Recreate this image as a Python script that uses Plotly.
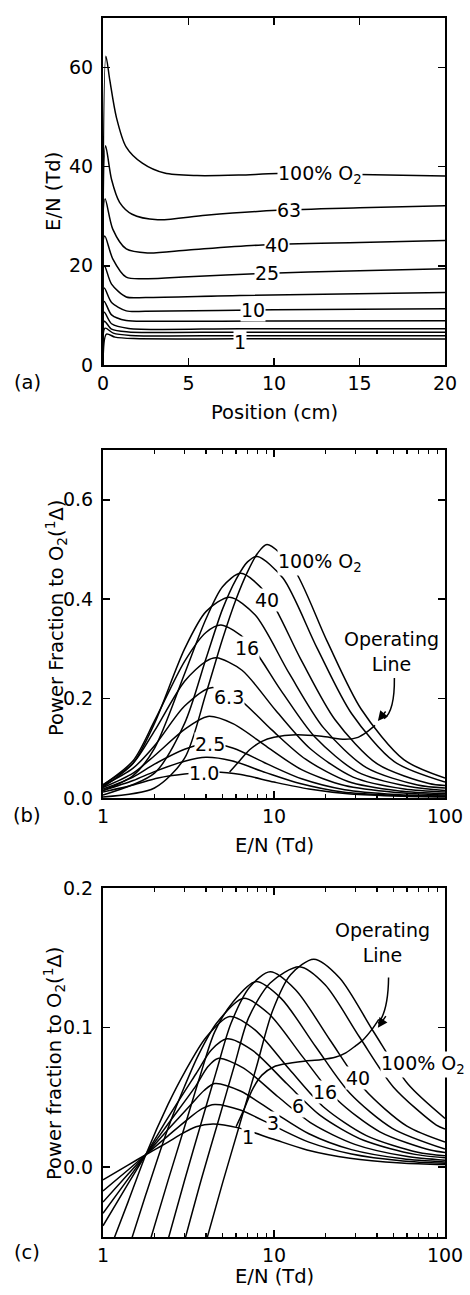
import numpy as np
import plotly.graph_objects as go

FONT = "DejaVu Sans, Liberation Sans, Arial, sans-serif"
TICK_SIZE = 19
TITLE_SIZE = 19.5

# O2 percentages of the curve families (lowest to highest)
o2_percent = [1.0, 1.6, 2.5, 4, 6.3, 10, 16, 25, 40, 63, 100]

# ---------------- Panel (a): E/N (Td) vs position (cm) ----------------
a_pos = [
    [0, 0.2, 0.7, 1.8, 8, 20],
    [0, 0.12, 0.6, 1.6, 8, 20],
    [0, 0.08, 0.5, 1.5, 8, 20],
    [0, 0.07, 0.5, 1.5, 8, 20],
    [0, 0.07, 0.5, 1.36, 3, 10, 20],
    [0, 0.07, 0.5, 1.36, 2.5, 10, 20],
    [0, 0.08, 0.5, 1.36, 2.5, 8, 20],
    [0, 0.1, 0.57, 1.36, 2.6, 5, 8.9, 15, 20],
    [0, 0.12, 0.57, 1.36, 2.6, 5, 9.3, 15, 20],
    [0, 0.15, 0.5, 0.97, 1.7, 3.2, 6, 10.2, 15, 20],
    [0, 0.17, 0.4, 0.78, 1.35, 2.3, 3.6, 5.5, 8, 10.2, 15, 20],
]
a_en = [
    [0, 6.2, 5.6, 5.3, 5.25, 5.2],
    [0, 7.4, 6.4, 5.95, 5.9, 5.9],
    [0, 8.8, 7.2, 6.65, 6.6, 6.6],
    [0, 10.6, 8.3, 7.35, 7.3, 7.3],
    [0, 12.8, 10.1, 8.95, 8.8, 8.85, 8.9],
    [0, 15.5, 12.6, 10.9, 10.8, 11.1, 11.35],
    [0, 20.0, 16.3, 13.7, 13.6, 14.0, 14.6],
    [0, 26.0, 21.4, 17.7, 17.4, 17.8, 18.4, 19.0, 19.4],
    [0, 33.5, 27.4, 23.4, 22.6, 23.2, 24.2, 24.7, 25.1],
    [0, 44.2, 37.4, 32.8, 30.4, 29.3, 30.2, 31.2, 31.7, 32.1],
    [0, 62.3, 57.4, 50.0, 44.0, 40.7, 38.7, 38.2, 38.3, 38.6, 38.4, 38.1],
]

# ---------------- Panel (b): power fraction vs E/N ----------------
b_en = [
    [1, 1.5, 2.1, 3, 4.5, 6.4, 10, 16, 28, 56, 100],
    [1, 1.5, 2, 3, 4, 5.65, 8.96, 14.2, 25.2, 50.4, 100],
    [1, 1.5, 2, 3, 4.1, 5.79, 9.18, 14.5, 25.9, 51.6, 100],
    [1, 1.5, 2, 3, 4.1, 5.79, 9.18, 14.5, 25.9, 51.6, 100],
    [1, 1.5, 2, 3, 4.3, 6.08, 9.63, 15.3, 27.1, 54.1, 100],
    [1, 1.5, 2, 3, 4, 4.6, 6.5, 10.3, 16.3, 29.0, 57.9, 100],
    [1, 1.5, 2, 3, 4, 4.9, 6.92, 11.0, 17.4, 30.9, 61.7, 100],
    [1, 1.5, 2, 3, 4, 5.5, 7.77, 12.3, 19.5, 34.7, 69.2, 100],
    [1, 1.5, 2, 3, 4, 5, 6.4, 9.04, 14.3, 22.7, 40.4, 80.6, 100],
    [1, 2, 3, 4, 5, 6, 7, 8, 11.3, 17.9, 28.4, 50.5, 100],
    [1, 2, 3, 4, 5, 6, 7, 8, 9.1, 12.9, 20.4, 32.3, 57.4, 100],
]
b_frac = [
    [0.012, 0.026, 0.040, 0.048, 0.052, 0.047, 0.032, 0.018, 0.008, 0.0035, 0.002],
    [0.015, 0.035, 0.053, 0.074, 0.082, 0.075, 0.051, 0.029, 0.012, 0.0053, 0.003],
    [0.018, 0.042, 0.068, 0.098, 0.110, 0.100, 0.068, 0.0385, 0.0165, 0.007, 0.004],
    [0.021, 0.050, 0.085, 0.138, 0.164, 0.149, 0.102, 0.057, 0.025, 0.011, 0.006],
    [0.025, 0.060, 0.105, 0.185, 0.222, 0.202, 0.138, 0.078, 0.033, 0.014, 0.0085],
    [0.027, 0.070, 0.135, 0.235, 0.275, 0.282, 0.257, 0.175, 0.099, 0.042, 0.018, 0.012],
    [0.026, 0.075, 0.155, 0.275, 0.333, 0.348, 0.317, 0.216, 0.122, 0.052, 0.023, 0.015],
    [0.022, 0.070, 0.150, 0.300, 0.375, 0.404, 0.368, 0.250, 0.141, 0.061, 0.026, 0.020],
    [0.015, 0.045, 0.100, 0.250, 0.360, 0.425, 0.452, 0.411, 0.280, 0.158, 0.068, 0.029, 0.025],
    [0.006, 0.050, 0.150, 0.280, 0.380, 0.440, 0.475, 0.486, 0.442, 0.301, 0.170, 0.073, 0.032],
    [0.002, 0.020, 0.080, 0.210, 0.320, 0.400, 0.455, 0.492, 0.510, 0.464, 0.316, 0.179, 0.077, 0.040],
]
b_op_en = [5.5, 6.3, 7.2, 8.5, 10, 13.5, 19, 26, 31, 35, 39]
b_op_frac = [0.052, 0.075, 0.097, 0.114, 0.122, 0.127, 0.124, 0.118, 0.122, 0.133, 0.146]

# ---------------- Panel (c): power fraction vs E/N ----------------
c_en = [
    [1, 1.4, 1.78, 2.4, 2.8, 3.5, 4.4, 6.2, 9.85, 15.6, 27.8, 55.4, 100],
    [1, 1.4, 1.78, 2.4, 3.1, 3.8, 4.5, 6.36, 10.1, 16.0, 28.4, 56.7, 100],
    [1, 1.4, 1.78, 2.4, 3.27, 3.9, 4.5, 6.36, 10.1, 16.0, 28.4, 56.7, 100],
    [1, 1.4, 1.78, 2.4, 3.5, 4.1, 4.7, 6.64, 10.5, 16.7, 29.7, 59.2, 100],
    [1, 1.4, 1.78, 2.4, 3.5, 4.3, 5.3, 7.49, 11.9, 18.8, 33.4, 66.7, 100],
    [1.12, 1.4, 1.78, 2.4, 3.0, 4.0, 5.5, 7.77, 12.3, 19.5, 34.7, 69.2, 100],
    [1.43, 1.78, 2.4, 3.0, 3.6, 4.6, 6.6, 9.33, 14.8, 23.4, 41.6, 83.1, 100],
    [1.85, 2.4, 3.0, 3.7, 4.5, 5.8, 7.8, 11.0, 17.5, 27.7, 49.2, 100],
    [2.35, 3.0, 3.8, 4.6, 5.6, 7.2, 9.5, 13.4, 21.3, 33.7, 59.9, 100],
    [2.95, 3.8, 4.8, 5.9, 7.1, 9.5, 14.1, 19.9, 31.6, 50.0, 89.0, 100],
    [3.95, 5.0, 6.3, 7.9, 9.8, 12.5, 17.1, 24.2, 38.3, 60.7, 100],
]
c_frac = [
    [-0.009, 0.0015, 0.009, 0.018, 0.023, 0.029, 0.031, 0.0282, 0.0202, 0.0124, 0.0065, 0.0031, 0.0019],
    [-0.017, -0.002, 0.009, 0.0225, 0.034, 0.042, 0.045, 0.041, 0.0293, 0.018, 0.0095, 0.0045, 0.0028],
    [-0.025, -0.005, 0.009, 0.027, 0.045, 0.055, 0.060, 0.0546, 0.039, 0.024, 0.0126, 0.006, 0.0037],
    [-0.033, -0.0085, 0.009, 0.031, 0.0585, 0.072, 0.078, 0.071, 0.0507, 0.0312, 0.0164, 0.0078, 0.005],
    [-0.042, -0.012, 0.009, 0.0355, 0.067, 0.084, 0.092, 0.0837, 0.0598, 0.0368, 0.0193, 0.0092, 0.0068],
    [-0.056, -0.025, 0.009, 0.045, 0.068, 0.093, 0.108, 0.0983, 0.0702, 0.0432, 0.0227, 0.0108, 0.0082],
    [-0.056, -0.0196, 0.028, 0.058, 0.080, 0.103, 0.121, 0.110, 0.0787, 0.0484, 0.0254, 0.0121, 0.0106],
    [-0.056, -0.0096, 0.029, 0.0656, 0.097, 0.119, 0.133, 0.121, 0.0865, 0.0532, 0.0279, 0.013],
    [-0.056, -0.0093, 0.034, 0.0687, 0.103, 0.129, 0.140, 0.127, 0.091, 0.056, 0.0294, 0.018],
    [-0.056, -0.0067, 0.036, 0.074, 0.107, 0.132, 0.1436, 0.1307, 0.0933, 0.0574, 0.0302, 0.0274],
    [-0.056, -0.0114, 0.0306, 0.072, 0.112, 0.138, 0.149, 0.1356, 0.0969, 0.0596, 0.035],
]
c_op_en = [6.0, 6.6, 7.5, 8.5, 10, 11.5, 15, 18.7, 23, 26.3, 30, 33, 37.5, 41]
c_op_frac = [0.029, 0.040, 0.056, 0.066, 0.072, 0.074, 0.076, 0.077, 0.079, 0.082, 0.087, 0.091, 0.099, 0.106]

# Curve labels
a_labels = ["1", "10", "25", "40", "63", "100% O<sub>2</sub>"]
a_label_x = [8.0, 8.8, 9.6, 10.2, 10.85, 10.2]
a_label_y = [4.6, 11.1, 18.6, 24.2, 31.2, 38.5]
b_labels = ["1.0", "2.5", "6.3", "16", "40", "100% O<sub>2</sub>"]
b_label_en = [3.9, 4.22, 5.45, 6.93, 9.07, 10.4]
b_label_y = [0.050, 0.108, 0.204, 0.302, 0.398, 0.474]
c_labels = ["1", "3", "6", "16", "40", "100% O<sub>2</sub>"]
c_label_en = [7.0, 9.85, 13.9, 20.0, 30.8, 41.6]
c_label_y = [0.022, 0.0314, 0.0436, 0.054, 0.0636, 0.0736]

# ---------------- Figure ----------------
W, H = 470, 1295
ML, MR, MT, MB = 103, 15, 7, 58
PH = H - MT - MB

def ydom(top_px, bot_px):
    return [(H - MB - bot_px) / PH, (H - MB - top_px) / PH]

fig = go.Figure()
LINE = dict(color="black", width=1.5, shape="spline", smoothing=0.8)

for x, y in zip(a_pos, a_en):
    fig.add_trace(go.Scatter(x=x, y=y, mode="lines", line=LINE, xaxis="x", yaxis="y",
                             showlegend=False, hoverinfo="skip"))
for x, y in zip(b_en, b_frac):
    fig.add_trace(go.Scatter(x=x, y=y, mode="lines", line=LINE, xaxis="x2", yaxis="y2",
                             showlegend=False, hoverinfo="skip"))
fig.add_trace(go.Scatter(x=b_op_en, y=b_op_frac, mode="lines", line=LINE, xaxis="x2", yaxis="y2",
                         showlegend=False, hoverinfo="skip"))
for x, y in zip(c_en, c_frac):
    fig.add_trace(go.Scatter(x=x, y=y, mode="lines", line=LINE, xaxis="x3", yaxis="y3",
                             showlegend=False, hoverinfo="skip"))
fig.add_trace(go.Scatter(x=c_op_en, y=c_op_frac, mode="lines", line=LINE, xaxis="x3", yaxis="y3",
                         showlegend=False, hoverinfo="skip"))

axis_common = dict(showline=True, linecolor="black", linewidth=2, mirror="ticks",
                   ticks="inside", ticklen=7, tickwidth=1.5, tickcolor="black",
                   showgrid=False, zeroline=False,
                   tickfont=dict(family=FONT, size=TICK_SIZE, color="black"))
minor_log = dict(tickvals=[2, 3, 4, 5, 6, 7, 8, 9, 20, 30, 40, 50, 60, 70, 80, 90],
                 ticks="inside", ticklen=4, tickwidth=1.2, tickcolor="black", showgrid=False)

fig.update_layout(
    width=W, height=H,
    margin=dict(l=ML, r=MR, t=MT, b=MB),
    paper_bgcolor="white", plot_bgcolor="white",
    font=dict(family=FONT, size=TICK_SIZE, color="black"),
    hovermode=False,
    xaxis=dict(domain=[0, 1], anchor="y", range=[0, 20], tickvals=[0, 5, 10, 15, 20],
               ticklabelstandoff=0, **axis_common),
    yaxis=dict(domain=ydom(7, 357), anchor="x", range=[0, 70], tickvals=[0, 20, 40, 60],
               ticklabelstandoff=4, **axis_common),
    xaxis2=dict(domain=[0, 1], anchor="y2", type="log", range=[0, 2], tickvals=[1, 10, 100],
                ticktext=["1", "10", "100"], minor=minor_log, ticklabelstandoff=0, **axis_common),
    yaxis2=dict(domain=ydom(443, 794), anchor="x2", range=[0, 0.7], tickvals=[0, 0.2, 0.4, 0.6],
                ticktext=["0.0", "0.2", "0.4", "0.6"], ticklabelstandoff=4, **axis_common),
    xaxis3=dict(domain=[0, 1], anchor="y3", type="log", range=[0, 2], tickvals=[1, 10, 100],
                ticktext=["1", "10", "100"], minor=minor_log, ticklabelstandoff=0, **axis_common),
    yaxis3=dict(domain=ydom(885, 1237), anchor="x3", range=[-0.05, 0.2], tickvals=[0, 0.1, 0.2],
                ticktext=["0.0", "0.1", "0.2"], ticklabelstandoff=4, **axis_common),
)

def px_to_paper(px, py):
    return (px - ML) / (W - ML - MR), (H - MB - py) / PH

ann = []
TF = dict(family=FONT, size=TITLE_SIZE, color="black")

# axis titles and panel letters
for txt, (px, py), ang in [
    ("Position (cm)", (279, 405), 0),
    ("E/N (Td)", (279, 842), 0),
    ("E/N (Td)", (279, 1277), 0),
    ("E/N (Td)", (52, 182), -90),
    ("Power Fraction to O<sub>2</sub>(<sup>1</sup>Δ)", (54, 612), -90),
    ("Power fraction to O<sub>2</sub>(<sup>1</sup>Δ)", (52, 1062), -90),
    ("(a)", (25, 375), 0),
    ("(b)", (25, 812), 0),
    ("(c)", (25, 1253), 0),
]:
    x, y = px_to_paper(px, py)
    ann.append(dict(text=txt, x=x, y=y, xref="paper", yref="paper", showarrow=False,
                    textangle=ang, xanchor="center", yanchor="middle", font=TF))

LF = dict(family=FONT, size=TICK_SIZE, color="black")
for t, x, y in zip(a_labels, a_label_x, a_label_y):
    ann.append(dict(text=t, x=x, y=y, xref="x", yref="y", showarrow=False, font=LF,
                    xanchor="left" if "O" in t else "center", yanchor="middle",
                    bgcolor="white", borderpad=0))
for t, x, y in zip(b_labels, b_label_en, b_label_y):
    ann.append(dict(text=t, x=np.log10(x), y=y, xref="x2", yref="y2", showarrow=False, font=LF,
                    xanchor="left" if "O" in t else "center", yanchor="middle",
                    bgcolor="white", borderpad=0))
for t, x, y in zip(c_labels, c_label_en, c_label_y):
    ann.append(dict(text=t, x=np.log10(x), y=y, xref="x3", yref="y3", showarrow=False, font=LF,
                    xanchor="left" if "O" in t else "center", yanchor="middle",
                    bgcolor="white", borderpad=0))

ann.append(dict(text="Operating<br>Line", x=np.log10(48.8), y=0.294, xref="x2", yref="y2",
                showarrow=False, font=LF, xanchor="center", yanchor="middle"))
ann.append(dict(text="Operating<br>Line", x=np.log10(43.3), y=0.161, xref="x3", yref="y3",
                showarrow=False, font=LF, xanchor="center", yanchor="middle"))

# arrowheads at the end of the curved pointers
ann.append(dict(text="", x=np.log10(40.5), y=0.155, xref="x2", yref="y2", showarrow=True,
                ax=9, ay=-11, arrowhead=2, arrowsize=1.3, arrowwidth=1.5, arrowcolor="black"))
ann.append(dict(text="", x=np.log10(40.5), y=0.1, xref="x3", yref="y3", showarrow=True,
                ax=9, ay=-13, arrowhead=2, arrowsize=1.3, arrowwidth=1.5, arrowcolor="black"))

fig.update_layout(annotations=ann)

shapes = [
    dict(type="path", xref="x2 domain", yref="y2 domain",
         path="M 0.852,0.345 Q 0.853,0.250 0.822,0.228",
         line=dict(color="black", width=1.5)),
    dict(type="path", xref="x3 domain", yref="y3 domain",
         path="M 0.835,0.744 Q 0.834,0.650 0.805,0.612",
         line=dict(color="black", width=1.5)),
]
fig.update_layout(shapes=shapes)

# remove the browser's default 8px page margin so the figure sits at the window origin
fig.write_html("out.html", config={"displayModeBar": False, "staticPlot": True},
               post_script="document.body.style.margin='0px';")
